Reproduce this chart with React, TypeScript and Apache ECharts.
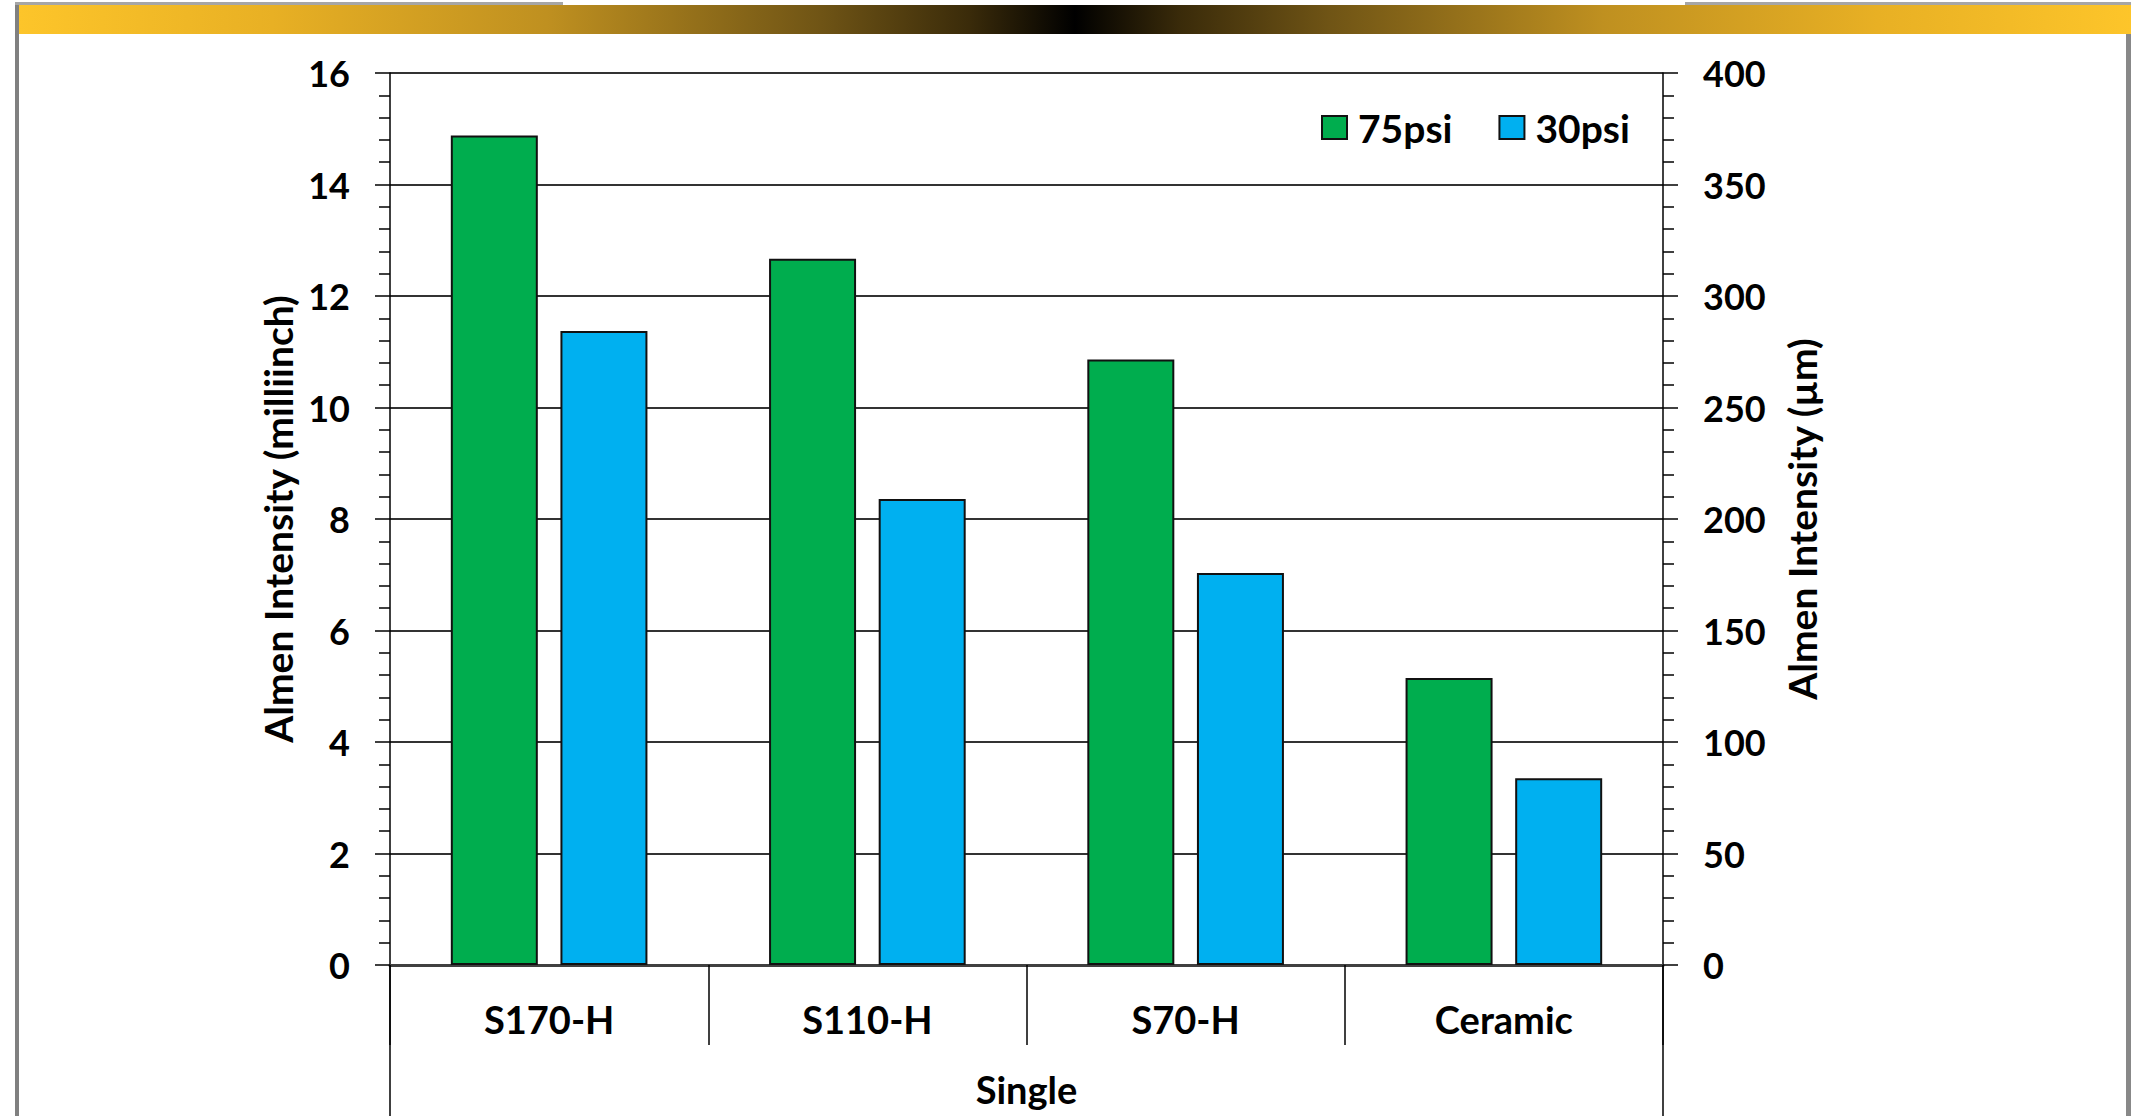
import React, { useEffect, useRef } from "react";
import * as echarts from "echarts";

const categories = ["S170-H", "S110-H", "S70-H", "Ceramic"];
const groupLabel = ["Single"];
const series75psi = [14.88, 12.67, 10.86, 5.15];
const series30psi = [11.37, 8.36, 7.03, 3.35];
const seriesNames = ["75psi", "30psi"];
const leftAxisName = "Almen Intensity (milliinch)";
const rightAxisName = "Almen Intensity (µm)";

const FONT = "Lato";
const GREEN = "#00AD4E";
const BLUE = "#00B0F0";

export default function App() {
  const ref = useRef<HTMLDivElement>(null);
  useEffect(() => {
    if (!ref.current) return;
    const chart = echarts.init(ref.current, null, { renderer: "svg" });
    const base = { color: "#000", fontFamily: FONT, fontWeight: "bold" as const };
    const numStyle = { ...base, fontSize: 36 };
    const textStyle = { ...base, fontSize: 39 };
    chart.setOption({
      animation: false,
      backgroundColor: "#fff",
      textStyle: { fontFamily: FONT },
      graphic: [
        { type: "rect", shape: { x: 15, y: 2, width: 4, height: 1114 }, style: { fill: "#808080" }, silent: true },
        { type: "rect", shape: { x: 2126, y: 34, width: 5, height: 1082 }, style: { fill: "#888888" }, silent: true },
        { type: "rect", shape: { x: 15, y: 2, width: 548, height: 3 }, style: { fill: "#A6A6A6" }, silent: true },
        { type: "rect", shape: { x: 1685, y: 2, width: 446, height: 3 }, style: { fill: "#A6A6A6" }, silent: true },
        {
          type: "rect",
          shape: { x: 19, y: 5, width: 2112, height: 29 },
          silent: true,
          style: {
            fill: new echarts.graphic.LinearGradient(0, 0, 1, 0, [
              { offset: 0, color: "#FDC52A" },
              { offset: 0.12, color: "#E8B024" },
              { offset: 0.25, color: "#BF9020" },
              { offset: 0.38, color: "#6F5415" },
              { offset: 0.45, color: "#3A2B0A" },
              { offset: 0.5, color: "#000000" },
              { offset: 0.55, color: "#3A2B0A" },
              { offset: 0.62, color: "#6F5415" },
              { offset: 0.75, color: "#BF9020" },
              { offset: 0.88, color: "#E8B024" },
              { offset: 1, color: "#FDC52A" },
            ]),
          },
        },
      ],
      legend: {
        left: 1321,
        top: 108,
        padding: 0,
        itemWidth: 25,
        itemHeight: 23,
        itemGap: 46,
        icon: "rect",
        textStyle: { ...textStyle, padding: [0, 0, 0, 6] },
        data: seriesNames,
      },
      grid: {
        left: 390,
        right: 489,
        top: 73,
        bottom: 151,
        containLabel: false,
        outerBoundsMode: "none",
      },
      xAxis: [
        {
          type: "category",
          data: categories,
          position: "bottom",
          axisLine: { show: true, lineStyle: { color: "#404040", width: 3 } },
          axisTick: { show: true, interval: 0, length: 80, lineStyle: { color: "#000", width: 1.5 } },
          axisLabel: { ...textStyle, fontSize: 38, margin: 35, interval: 0 },
          splitLine: { show: false },
        },
        {
          type: "category",
          data: groupLabel,
          position: "bottom",
          axisLine: { show: false },
          axisTick: { show: true, interval: 0, length: 151, lineStyle: { color: "#000", width: 1.5 } },
          axisLabel: { ...textStyle, fontSize: 38, lineHeight: 38, margin: 105 },
          splitLine: { show: false },
        },
      ],
      yAxis: [
        {
          type: "value",
          min: 0,
          max: 16,
          interval: 2,
          position: "left",
          name: leftAxisName,
          nameLocation: "middle",
          nameGap: 93,
          nameTextStyle: textStyle,
          axisLine: { show: true, lineStyle: { color: "#000", width: 1.5 } },
          axisTick: { show: true, length: 15, lineStyle: { color: "#000", width: 1.5 } },
          minorTick: { show: true, splitNumber: 5, length: 11, lineStyle: { color: "#000", width: 1.5 } },
          axisLabel: { ...numStyle, margin: 40 },
          splitLine: { show: true, lineStyle: { color: "#333", width: 2 } },
        },
        {
          type: "value",
          min: 0,
          max: 400,
          interval: 50,
          position: "right",
          name: rightAxisName,
          nameLocation: "middle",
          nameGap: 119,
          nameTextStyle: textStyle,
          axisLine: { show: true, lineStyle: { color: "#000", width: 1.5 } },
          axisTick: { show: true, length: 15, lineStyle: { color: "#000", width: 1.5 } },
          minorTick: { show: true, splitNumber: 5, length: 11, lineStyle: { color: "#000", width: 1.5 } },
          axisLabel: { ...numStyle, margin: 40 },
          splitLine: { show: false },
        },
      ],
      series: [
        {
          name: seriesNames[0],
          type: "bar",
          xAxisIndex: 0,
          yAxisIndex: 0,
          data: series75psi,
          barWidth: 87,
          barGap: "26%",
          itemStyle: { color: GREEN, borderColor: "#111", borderWidth: 2 },
        },
        {
          name: seriesNames[1],
          type: "bar",
          xAxisIndex: 0,
          yAxisIndex: 0,
          data: series30psi,
          barWidth: 87,
          barGap: "26%",
          itemStyle: { color: BLUE, borderColor: "#111", borderWidth: 2 },
        },
      ],
    });
    return () => chart.dispose();
  }, []);
  return (
    <div
      ref={ref}
      style={{ position: "fixed", left: 0, top: 0, width: 2152, height: 1116, background: "#fff" }}
    />
  );
}
